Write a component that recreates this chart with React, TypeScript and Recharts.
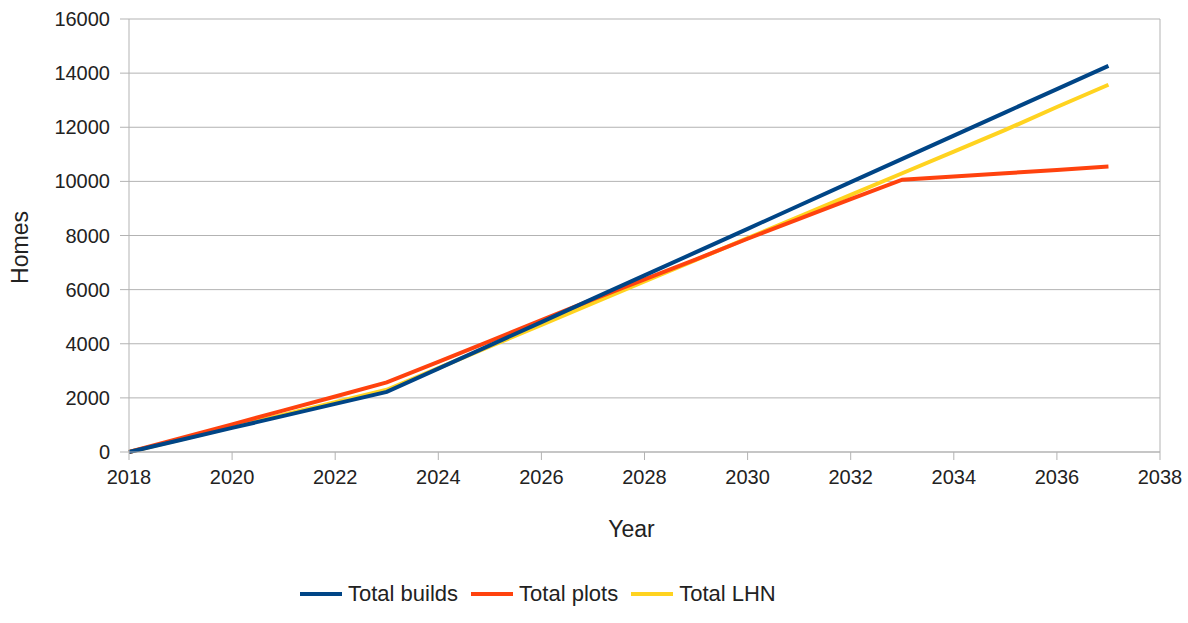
import { CartesianGrid, Label, Legend, Line, LineChart, ReferenceLine, XAxis, YAxis } from "recharts";

const years = [
  2018, 2019, 2020, 2021, 2022, 2023, 2024, 2025, 2026, 2027, 2028, 2029, 2030, 2031, 2032, 2033, 2034, 2035,
  2036, 2037,
];
const totalBuilds = [
  0, 445, 890, 1335, 1780, 2220, 3080, 3940, 4800, 5665, 6525, 7385, 8245, 9110, 9970, 10830, 11690, 12550,
  13410, 14270,
];
const totalPlots = [
  0, 510, 1020, 1540, 2050, 2570, 3330, 4100, 4870, 5640, 6380, 7120, 7880, 8610, 9340, 10060, 10180, 10300,
  10420, 10550,
];
const totalLHN = [
  0, 460, 920, 1380, 1840, 2300, 3100, 3900, 4700, 5500, 6300, 7100, 7900, 8700, 9500, 10300, 11100, 11900,
  12750, 13570,
];
const xTicks = [2018, 2020, 2022, 2024, 2026, 2028, 2030, 2032, 2034, 2036, 2038];
const yTicks = [0, 2000, 4000, 6000, 8000, 10000, 12000, 14000, 16000];

const data = years.map((year, i) => ({
  year,
  builds: totalBuilds[i],
  plots: totalPlots[i],
  lhn: totalLHN[i],
}));

// legend order as in the original; drawing order is reversed so builds sits on top
const series = [
  { key: "builds", name: "Total builds", color: "#004586" },
  { key: "plots", name: "Total plots", color: "#ff420e" },
  { key: "lhn", name: "Total LHN", color: "#ffd320" },
];

const FONT = "'Liberation Sans', Arial, sans-serif";
const GRID = "#b3b3b3";

const ChartLegend = () => (
  <div style={{ display: "flex", alignItems: "center", fontFamily: FONT, fontSize: 22, color: "#222" }}>
    {series.map((s) => (
      <div key={s.key} style={{ display: "flex", alignItems: "center", marginRight: 13 }}>
        <div style={{ width: 42, height: 4, background: s.color, marginRight: 6 }} />
        <span>{s.name}</span>
      </div>
    ))}
  </div>
);

const App = () => {
  return (
    <div style={{ position: "absolute", left: 0, top: 0, background: "#fff" }}>
      <LineChart width={1188} height={623} data={data} margin={{ top: 19, right: 28, bottom: 86, left: 0 }}>
        <CartesianGrid vertical={false} stroke={GRID} />
        <XAxis
          dataKey="year"
          type="number"
          domain={[2018, 2038]}
          ticks={xTicks}
          height={85}
          stroke={GRID}
          tickSize={8}
          tickMargin={10}
          tick={{ fill: "#222", fontSize: 20, fontFamily: FONT }}
        >
          <Label value="Year" position="center" dx={-13} dy={34} fill="#222" fontSize={23} fontFamily={FONT} />
        </XAxis>
        <YAxis
          type="number"
          domain={[0, 16000]}
          ticks={yTicks}
          width={129}
          stroke={GRID}
          tickSize={9}
          tickMargin={10}
          tick={{ fill: "#222", fontSize: 20, fontFamily: FONT }}
        >
          <Label
            value="Homes"
            position="center"
            angle={-90}
            dx={-45}
            dy={12}
            fill="#222"
            fontSize={23}
            fontFamily={FONT}
          />
        </YAxis>
        <ReferenceLine x={2038} stroke={GRID} />
        {[...series].reverse().map((s) => (
          <Line
            key={s.key}
            type="linear"
            dataKey={s.key}
            name={s.name}
            stroke={s.color}
            strokeWidth={4}
            dot={false}
            isAnimationActive={false}
          />
        ))}
        <Legend
          verticalAlign="middle"
          align="center"
          content={<ChartLegend />}
          wrapperStyle={{ left: 300, top: 581, width: "auto" }}
        />
      </LineChart>
    </div>
  );
};

export default App;
